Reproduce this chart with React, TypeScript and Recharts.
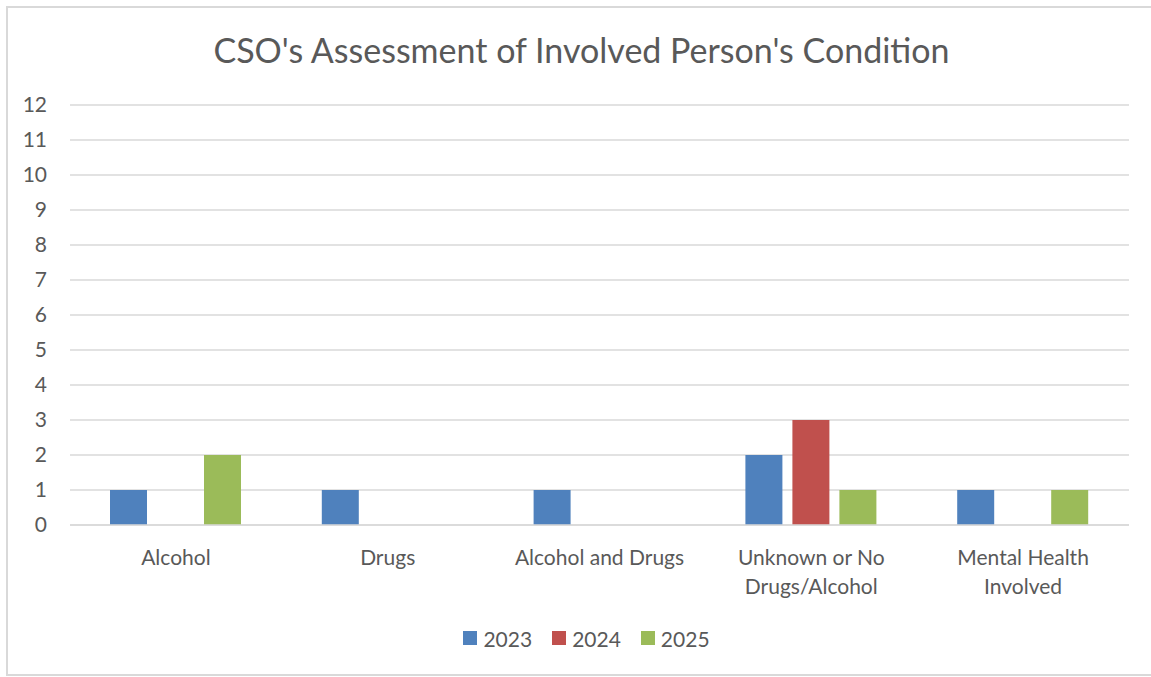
import { Bar, BarChart, CartesianGrid, Legend, XAxis, YAxis } from "recharts";

const CATEGORIES = [
  "Alcohol",
  "Drugs",
  "Alcohol and Drugs",
  "Unknown or No Drugs/Alcohol",
  "Mental Health Involved",
];
const VALUES_2023 = [1, 1, 1, 2, 1];
const VALUES_2024 = [0, 0, 0, 3, 0];
const VALUES_2025 = [2, 0, 0, 1, 1];
const Y_TICKS = [0, 1, 2, 3, 4, 5, 6, 7, 8, 9, 10, 11, 12];

const SERIES = [
  { key: "y2023", name: "2023", color: "#4F81BD" },
  { key: "y2024", name: "2024", color: "#C0504D" },
  { key: "y2025", name: "2025", color: "#9BBB59" },
];

const data = CATEGORIES.map((name, i) => ({
  name,
  y2023: VALUES_2023[i],
  y2024: VALUES_2024[i],
  y2025: VALUES_2025[i],
}));

const FONT = "Lato, 'Open Sans', sans-serif";
const LABEL_COLOR = "#595959";
const GRID_COLOR = "#d9d9d9";
const LABEL_SIZE = 21;
const WRAP_WIDTH = 185;

let measureCtx: CanvasRenderingContext2D | null = null;

// greedy word wrap, like Excel does for long category names
function wrapLabel(label: string): string[] {
  if (!measureCtx) {
    measureCtx = document.createElement("canvas").getContext("2d");
  }
  if (!measureCtx) return [label];
  measureCtx.font = `${LABEL_SIZE}px ${FONT}`;
  const lines: string[] = [];
  let current = "";
  for (const word of label.split(" ")) {
    const next = current ? `${current} ${word}` : word;
    if (current && measureCtx.measureText(next).width > WRAP_WIDTH) {
      lines.push(current);
      current = word;
    } else {
      current = next;
    }
  }
  if (current) lines.push(current);
  return lines;
}

function CategoryTick({ x, y, payload }: any) {
  const lines = wrapLabel(String(payload.value));
  return (
    <text
      x={x}
      y={y + 40}
      textAnchor="middle"
      fill={LABEL_COLOR}
      fontSize={LABEL_SIZE}
      fontFamily={FONT}
    >
      {lines.map((line, i) => (
        <tspan key={i} x={x} dy={i === 0 ? 0 : 29}>
          {line}
        </tspan>
      ))}
    </text>
  );
}

function LegendContent() {
  return (
    <div
      style={{
        display: "flex",
        justifyContent: "center",
        alignItems: "center",
        height: 28,
        gap: 20,
        paddingLeft: 22,
        fontFamily: FONT,
        fontSize: LABEL_SIZE,
        color: LABEL_COLOR,
      }}
    >
      {SERIES.map((s) => (
        <div key={s.key} style={{ display: "flex", alignItems: "center", gap: 6 }}>
          <span style={{ width: 14, height: 14, background: s.color, display: "inline-block" }} />
          <span>{s.name}</span>
        </div>
      ))}
    </div>
  );
}

export default function App() {
  return (
    <div
      style={{
        position: "fixed",
        left: 0,
        top: 0,
        width: 1151,
        height: 677,
        background: "#fff",
        overflow: "hidden",
      }}
    >
      <div
        style={{
          position: "absolute",
          left: 6,
          top: 6,
          width: 1160,
          height: 666,
          border: `2px solid ${GRID_COLOR}`,
        }}
      />
      <div
        style={{
          position: "absolute",
          left: 6,
          width: 1151,
          top: 28,
          textAlign: "center",
          fontFamily: FONT,
          fontSize: 34,
          color: LABEL_COLOR,
          lineHeight: "44px",
        }}
      >
        CSO's Assessment of Involved Person's Condition
      </div>
      <BarChart
        width={1151}
        height={677}
        data={data}
        margin={{ top: 105, right: 22, bottom: 44, left: 0 }}
        barCategoryGap={40}
        barGap={10}
        style={{ position: "absolute", left: 0, top: 0 }}
      >
        <CartesianGrid horizontal vertical={false} stroke={GRID_COLOR} strokeWidth={1.5} />
        <XAxis
          dataKey="name"
          height={80}
          interval={0}
          axisLine={{ stroke: GRID_COLOR, strokeWidth: 1.5 }}
          tickLine={false}
          tickSize={0}
          tickMargin={0}
          tick={<CategoryTick />}
        />
        <YAxis
          width={70}
          domain={[0, 12]}
          ticks={Y_TICKS}
          interval={0}
          axisLine={false}
          tickLine={false}
          tickSize={0}
          tickMargin={23}
          tick={{ fill: LABEL_COLOR, fontSize: LABEL_SIZE, fontFamily: FONT }}
        />
        <Legend
          verticalAlign="bottom"
          content={<LegendContent />}
          wrapperStyle={{ left: 0, width: 1151, top: 624 }}
        />
        {SERIES.map((s) => (
          <Bar key={s.key} dataKey={s.key} name={s.name} fill={s.color} isAnimationActive={false} />
        ))}
      </BarChart>
    </div>
  );
}
